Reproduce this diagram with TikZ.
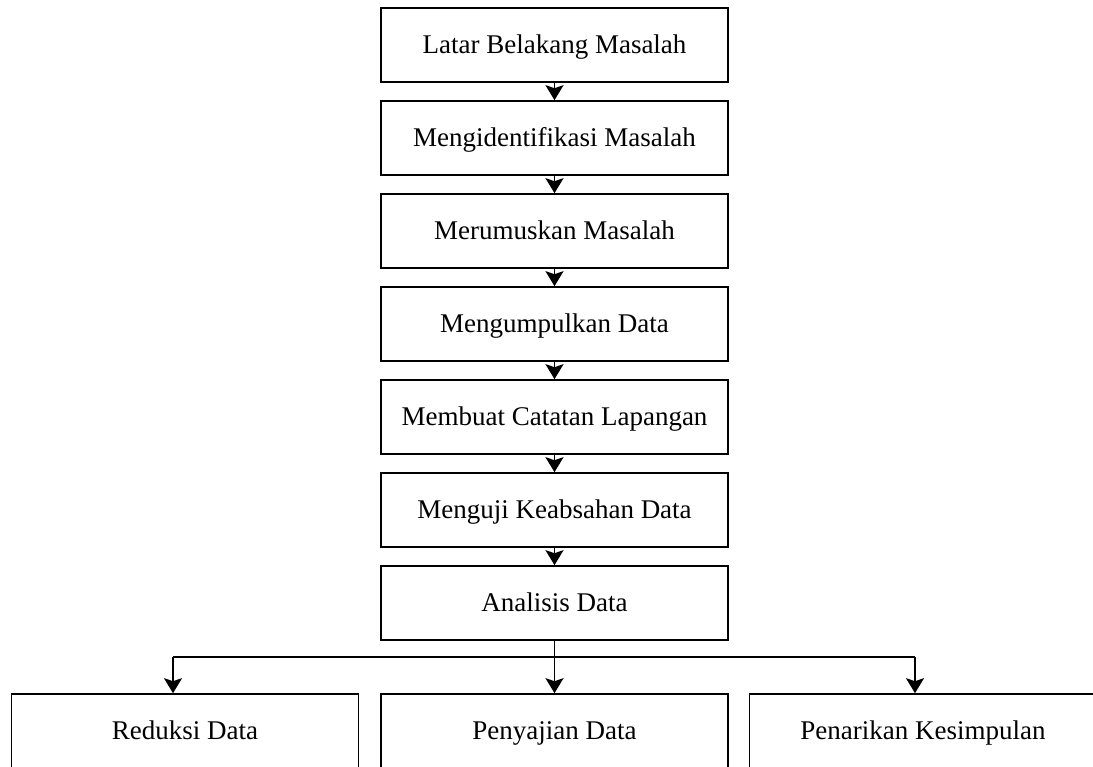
\documentclass[tikz,border=0pt]{standalone}
\usepackage{fontspec}
\setmainfont{Liberation Serif}
\usetikzlibrary{arrows.meta}

\begin{document}
\begin{tikzpicture}[x=1pt, y=-1pt,
    stepbox/.style={draw, line width=1.6pt, minimum width=347pt, minimum height=74pt,
      inner sep=0pt, text height=21pt, text depth=4pt, font=\fontsize{27}{30}\selectfont},
    arrow/.style={line width=1.8pt, -{Stealth[width=18pt, length=15pt, inset=3pt]}}]
    \useasboundingbox (0, 0) rectangle (1093, 767);

    \node (lbm) at (554.5, 45) [stepbox] {Latar Belakang Masalah};
    \node (im) at (554.5, 138) [stepbox] {Mengidentifikasi Masalah};
    \node (rm) at (554.5, 231) [stepbox] {Merumuskan Masalah};
    \node (kd) at (554.5, 324) [stepbox] {Mengumpulkan Data};
    \node (cl) at (554.5, 417) [stepbox] {Membuat Catatan Lapangan};
    \node (kds) at (554.5, 510) [stepbox] {Menguji Keabsahan Data};
    \node (ad) at (554.5, 603) [stepbox] {Analisis Data};

    \node (rd) at (185, 731) [stepbox] {Reduksi Data};
    \node (pd) at (554.5, 731) [stepbox] {Penyajian Data};
    \node (pk) at (923, 731) [stepbox] {Penarikan Kesimpulan};

    \draw[arrow] (lbm) to (im);
    \draw[arrow] (im) to (rm);
    \draw[arrow] (rm) to (kd);
    \draw[arrow] (kd) to (cl);
    \draw[arrow] (cl) to (kds);
    \draw[arrow] (kds) to (ad);
    \draw[arrow] (ad) to (pd);

    \coordinate (lj) at (173, 657);
    \coordinate (rj) at (915, 657);
    \draw[line width=1.8pt] (lj) to (rj);
    \draw[arrow] (lj) to (lj |- rd.north);
    \draw[arrow] (rj) to (rj |- pk.north);
  \end{tikzpicture}
\end{document}
